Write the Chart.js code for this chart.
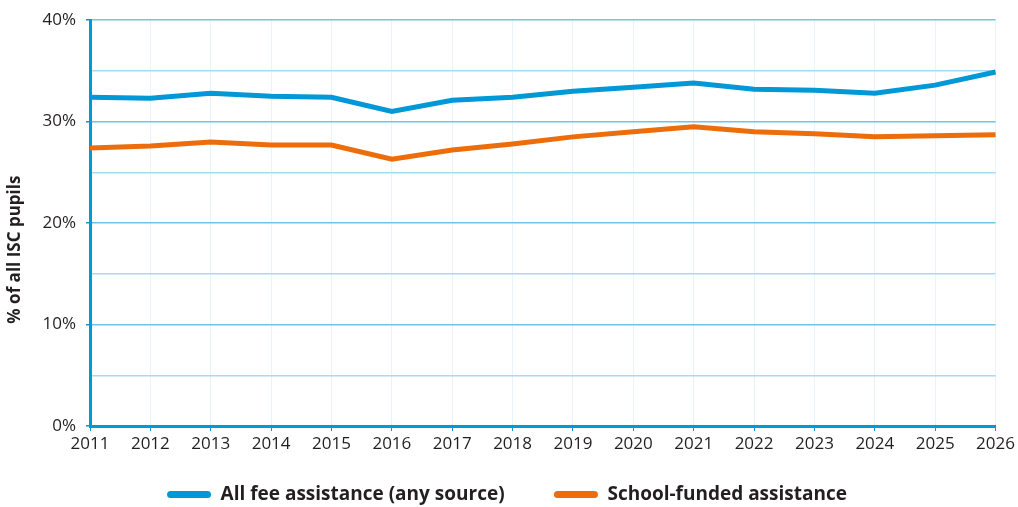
<!DOCTYPE html>
<html>
<head>
<meta charset="utf-8">
<script src="https://cdn.jsdelivr.net/npm/chart.js@4"></script>
<style>
  html, body { margin: 0; padding: 0; background: #fff; }
  #wrap { width: 1018px; height: 507px; }
</style>
</head>
<body>
<div id="wrap"><canvas id="chart"></canvas></div>
<script>
// years along the x axis
const years = ['2011', '2012', '2013', '2014', '2015', '2016', '2017', '2018',
               '2019', '2020', '2021', '2022', '2023', '2024', '2025', '2026'];

// % of all ISC pupils
const allFeeAssistance = [32.4, 32.3, 32.8, 32.5, 32.4, 31.0, 32.1, 32.4,
                          33.0, 33.4, 33.8, 33.2, 33.1, 32.8, 33.6, 34.9];
const schoolFunded = [27.4, 27.6, 28.0, 27.7, 27.7, 26.3, 27.2, 27.8,
                      28.5, 29.0, 29.5, 29.0, 28.8, 28.5, 28.6, 28.7];

const seriesLabels = ['All fee assistance (any source)', 'School-funded assistance'];

const BLUE = '#0098d6';
const ORANGE = '#ec6d0a';
const FONT = '"Open Sans", "Noto Sans", sans-serif';

new Chart(document.getElementById('chart'), {
    type: 'line',
    data: {
        labels: years,
        datasets: [
            {
                label: seriesLabels[0],
                data: allFeeAssistance,
                borderColor: BLUE,
                backgroundColor: BLUE,
                borderWidth: 5,
                pointRadius: 0,
                tension: 0
            },
            {
                label: seriesLabels[1],
                data: schoolFunded,
                borderColor: ORANGE,
                backgroundColor: ORANGE,
                borderWidth: 5,
                pointRadius: 0,
                tension: 0
            }
        ]
    },
    options: {
        responsive: true,
        maintainAspectRatio: false,
        animation: false,
        // left padding keeps the legend centred where the original has it
        layout: { padding: { top: 19, right: 21, left: 17, bottom: -7 } },
        plugins: {
            tooltip: { enabled: false },
            legend: {
                position: 'bottom',
                labels: {
                    color: '#231f20',
                    font: { family: FONT, size: 19, weight: 'bold' },
                    boxWidth: 44,
                    boxHeight: 7,
                    useBorderRadius: true,
                    borderRadius: 3.5,
                    padding: 0,
                    // plain pill swatches, and a wider gap between the two entries
                    generateLabels: (chart) => {
                        const items = Chart.defaults.plugins.legend.labels.generateLabels(chart);
                        items.forEach(it => { it.lineWidth = 0; });
                        items[0].text += '          ';
                        return items;
                    }
                }
            }
        },
        scales: {
            x: {
                afterFit: (scale) => { scale.height = 59; },
                grid: {
                    color: '#e8f4fb',
                    lineWidth: 1,
                    tickLength: 5,
                    tickColor: BLUE
                },
                border: { color: BLUE, width: 3 },
                ticks: {
                    color: '#231f20',
                    font: { family: FONT, size: 17 },
                    maxRotation: 0,
                    padding: 3
                }
            },
            y: {
                min: 0,
                max: 40,
                afterFit: (scale) => { scale.width = 73; },
                grid: {
                    color: (ctx) => ctx.tick && ctx.tick.value % 10 === 0 ? '#6cc6ec' : '#a6dcf3',
                    lineWidth: 1.5,
                    tickLength: 4,
                    tickColor: (ctx) => ctx.tick && ctx.tick.value % 10 === 0 ? BLUE : 'rgba(0,0,0,0)'
                },
                border: { color: BLUE, width: 3 },
                ticks: {
                    stepSize: 5,
                    color: '#231f20',
                    font: { family: FONT, size: 17 },
                    padding: 10,
                    callback: (v) => v % 10 === 0 ? v + '%' : ''
                },
                title: {
                    display: true,
                    // trailing spaces nudge the title down, as in the original
                    text: '% of all ISC pupils            ',
                    color: '#231f20',
                    font: { family: FONT, size: 17, weight: 'bold' },
                    padding: { top: -12, bottom: 0 }
                }
            }
        }
    }
});
</script>
</body>
</html>
